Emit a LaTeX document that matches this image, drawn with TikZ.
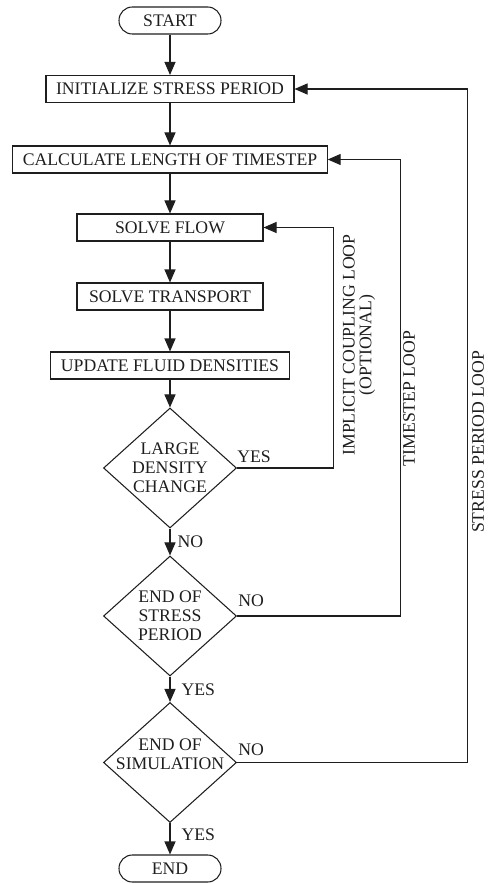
\documentclass[tikz,border=0pt]{standalone}
\usepackage{fontspec}
\setmainfont{Liberation Serif}
\usetikzlibrary{shapes.geometric, arrows.meta, positioning}
\definecolor{InkGray}{RGB}{30, 30, 30}

\begin{document}
\begin{tikzpicture}[
        x=0.3mm, y=-0.3mm,
        >={Triangle[length=3.9mm, width=3.3mm]},
        font=\fontsize{15.1}{16.4}\selectfont,
        every node/.style={text=InkGray},
        terminal/.style={draw=InkGray, line width=0.9pt, rounded corners=4mm, minimum width=30.6mm, minimum height=8.1mm, inner sep=0pt},
        process/.style={draw=InkGray, line width=0.9pt, minimum height=8.1mm, inner xsep=3mm, inner ysep=0pt},
        decision/.style={draw=InkGray, line width=0.9pt, diamond, minimum width=39.9mm, minimum height=36mm, inner sep=0pt},
        question/.style={align=center, inner sep=0pt},
        answer/.style={inner sep=0pt},
        looplabel/.style={rotate=90, align=center, inner sep=0pt},
        link/.style={->, draw=InkGray, line width=0.9pt}
    ]

    \useasboundingbox (0,0) rectangle (487,884);

    % Start und Hauptkette
    \node[terminal] (start) at (170,20.5) {START};
    \node[process] (init) at (170,89) {INITIALIZE STRESS PERIOD};
    \node[process] (calc) at (170,159.5) {CALCULATE LENGTH OF TIMESTEP};
    \node[process, minimum width=55.8mm] (solveflow) at (170,227.5) {SOLVE FLOW};
    \node[process, minimum width=55.8mm] (transport) at (170,296.5) {SOLVE TRANSPORT};
    \node[process] (update) at (170,365.5) {UPDATE FLUID DENSITIES};

    % Entscheidungen
    \node[decision] (large) at (170,468) {};
    \node[decision] (stress) at (170,616) {};
    \node[decision] (sim) at (170,762.5) {};
    \node[question] (largetxt) at (large) {LARGE\\DENSITY\\CHANGE};
    \node[question] (stresstxt) at (stress) {END OF\\STRESS\\PERIOD};
    \node[question] (simtxt) at ([yshift=2.4mm]sim) {END OF\\SIMULATION};

    \node[terminal] (finish) at (170,868.5) {END};

    % Pfeile nach unten
    \draw[link] (start) -- (init);
    \draw[link] (init) -- (calc);
    \draw[link] (calc) -- (solveflow);
    \draw[link] (solveflow) -- (transport);
    \draw[link] (transport) -- (update);
    \draw[link] (update) -- (large);
    \draw[link] (large) -- node[answer, right=2.1mm] (no1) {NO} (stress);
    \draw[link] (stress) -- node[answer, right=3.3mm] (yes2) {YES} (sim);
    \draw[link] (sim) -- node[answer, right=3.3mm, yshift=1.2mm] (yes3) {YES} (finish);

    % Schleifen
    \draw[link] (large.east) -- ++(96,0) |- (solveflow.east);
    \draw[link] (stress.east) -- ++(163,0) |- (calc.east);
    \draw[link] (sim.east) -- ++(230,0) |- (init.east);
    \node[answer, anchor=south west] (yes1) at ([yshift=1.5mm]large.east) {YES};
    \node[answer, anchor=south west] (no2) at ([xshift=0.3mm, yshift=2.7mm]stress.east) {NO};
    \node[answer, anchor=south west] (no3) at ([xshift=0.3mm, yshift=2.1mm]sim.east) {NO};

    % Beschriftung der Schleifen
    \node[looplabel] (implicit) at (359,345) {IMPLICIT COUPLING LOOP\\[-2pt](OPTIONAL)};
    \node[looplabel] (timestep) at (409,398.5) {TIMESTEP LOOP};
    \node[looplabel] (period) at (478,442) {STRESS PERIOD LOOP};

\end{tikzpicture}
\end{document}
